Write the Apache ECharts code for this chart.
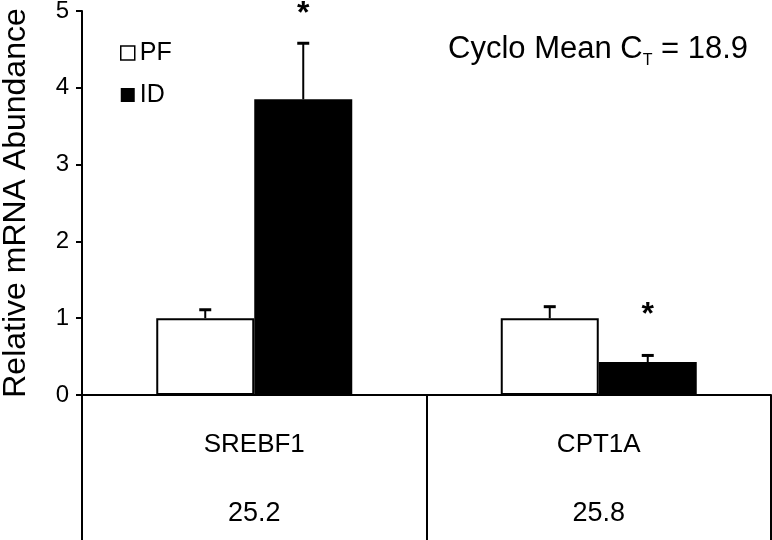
<!DOCTYPE html>
<html>
<head>
<meta charset="utf-8">
<script src="https://cdn.jsdelivr.net/npm/echarts@6/dist/echarts.min.js"></script>
<style>
html,body{margin:0;padding:0;background:#fff;}
#chart{width:772px;height:540px;}
</style>
</head>
<body>
<div id="chart"></div>
<script>
const categories = ['SREBF1', 'CPT1A'];
const ctValues = ['25.2', '25.8'];
const seriesNames = ['PF', 'ID'];
const pfValues = [1.0, 1.0];
const idValues = [3.85, 0.43];
const pfErrors = [0.11, 0.15];
const idErrors = [0.73, 0.085];
const idStars = [4.96, 1.04];
const yTicks = [0, 1, 2, 3, 4, 5];
const cycloLabel = ['Cyclo Mean C', 'T', ' = 18.9'];

const FONT = 'Liberation Sans, Arial, sans-serif';
const BAR_W = 98;

const chart = echarts.init(document.getElementById('chart'), null, {renderer: 'canvas'});

function errorSeries(values, errors, offsetSign) {
  return {
    type: 'custom',
    z: 5,
    clip: false,
    data: categories.map((c, i) => [i, values[i], values[i] + errors[i]]),
    renderItem: function (params, api) {
      const base = api.coord([api.value(0), api.value(1)]);
      const top = api.coord([api.value(0), api.value(2)]);
      const x = base[0] + offsetSign * BAR_W / 2;
      return {
        type: 'group',
        children: [
          {type: 'line', shape: {x1: x, y1: base[1], x2: x, y2: top[1]}, style: {stroke: '#000', lineWidth: 2}},
          {type: 'line', shape: {x1: x - 6, y1: top[1], x2: x + 6, y2: top[1]}, style: {stroke: '#000', lineWidth: 3}}
        ]
      };
    }
  };
}

const option = {
  animation: false,
  backgroundColor: '#fff',
  textStyle: {fontFamily: FONT},
  grid: {left: 82, right: 1, top: 11, bottom: 145, containLabel: false, outerBoundsMode: 'none'},
  title: {
    left: 443, top: 29,
    text: '{a|' + cycloLabel[0] + '}{s|' + cycloLabel[1] + '}{a|' + cycloLabel[2] + '}',
    textStyle: {
      fontWeight: 'normal',
      rich: {
        a: {fontSize: 31, fontWeight: 'normal', fontFamily: FONT, color: '#000', verticalAlign: 'bottom', padding: [0, 0, 4, 0]},
        s: {fontSize: 16, fontWeight: 'normal', fontFamily: FONT, color: '#000', verticalAlign: 'bottom'}
      }
    }
  },
  legend: {
    orient: 'vertical',
    left: 115, top: 35,
    itemWidth: 14, itemHeight: 14, itemGap: 16,
    icon: 'rect',
    textStyle: {fontSize: 25, lineHeight: 26, color: '#000', fontFamily: FONT},
    data: [
      {name: seriesNames[0], itemStyle: {color: '#fff', borderColor: '#000', borderWidth: 1.5}},
      {name: seriesNames[1], itemStyle: {color: '#000'}}
    ]
  },
  xAxis: {
    type: 'category',
    data: categories,
    axisLine: {show: true, lineStyle: {color: '#000', width: 2}},
    axisTick: {show: true, length: 146, interval: 0, lineStyle: {color: '#000', width: 2}},
    axisLabel: {
      interval: 0,
      margin: 15,
      formatter: function (v, i) { return '{c|' + v + '}\n{n|' + ctValues[i] + '}'; },
      rich: {
        c: {fontSize: 26, lineHeight: 69, color: '#000', fontFamily: FONT},
        n: {fontSize: 27, lineHeight: 69, color: '#000', fontFamily: FONT}
      }
    }
  },
  yAxis: {
    type: 'value',
    min: yTicks[0], max: yTicks[yTicks.length - 1], interval: 1,
    name: 'Relative mRNA Abundance',
    nameLocation: 'middle',
    nameGap: 50,
    nameTextStyle: {fontSize: 32, color: '#000', fontFamily: FONT},
    axisLine: {show: true, lineStyle: {color: '#000', width: 2}},
    axisTick: {show: true, length: 6, lineStyle: {color: '#000', width: 2}},
    axisLabel: {fontSize: 24, color: '#000', margin: 13, fontFamily: FONT},
    splitLine: {show: false}
  },
  series: [
    {
      name: seriesNames[0], type: 'bar', data: pfValues, barWidth: BAR_W, barGap: '0%',
      itemStyle: {color: '#fff', borderColor: '#000', borderWidth: 2}
    },
    {
      name: seriesNames[1], type: 'bar', data: idValues, barWidth: BAR_W, barGap: '0%',
      itemStyle: {color: '#000', borderColor: '#000', borderWidth: 0}
    },
    errorSeries(pfValues, pfErrors, -1),
    errorSeries(idValues, idErrors, 1),
    {
      type: 'custom',
      z: 6,
      clip: false,
      data: categories.map((c, i) => [i, idStars[i]]),
      renderItem: function (params, api) {
        const p = api.coord([api.value(0), api.value(1)]);
        return {
          type: 'text',
          style: {text: '*', x: p[0] + BAR_W / 2, y: p[1], align: 'center', verticalAlign: 'middle', fontSize: 32, fontWeight: 'bold', fontFamily: FONT, fill: '#000'}
        };
      }
    }
  ]
};
chart.setOption(option);
</script>
</body>
</html>
